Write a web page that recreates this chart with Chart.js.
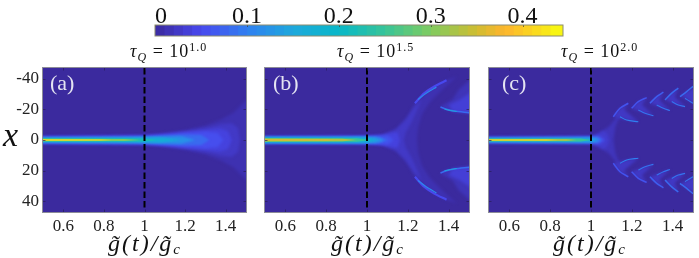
<!DOCTYPE html>
<html>
<head>
<meta charset="utf-8">
<script src="https://cdn.jsdelivr.net/npm/chart.js@4"></script>
<style>
html, body { margin: 0; padding: 0; background: #fff; }
#page { position: relative; width: 699px; height: 258px; overflow: hidden; font-family: "Liberation Serif", serif; color: #111; }
canvas { position: absolute; }
.title { position: absolute; top: 41px; font-size: 18px; letter-spacing: 1px; white-space: nowrap; }
.title sub { font-size: 12px; font-style: italic; vertical-align: -4px; line-height: 0; }
.title sup { font-size: 12px; vertical-align: 6px; line-height: 0; }
.tag { position: absolute; top: 70px; font-size: 22px; color: #e4e4f2; }
.xlabel { position: absolute; top: 230px; font-size: 24px; font-style: italic; white-space: nowrap; letter-spacing: 2px; }
.xlabel sub { font-size: 15px; vertical-align: -3px; line-height: 0; }
#xname { position: absolute; left: 3px; top: 116px; font-size: 34px; font-style: italic; }
</style>
</head>
<body>
<div id="page">
  <canvas id="bar" width="450" height="40" style="left:130px;top:0"></canvas>
  <canvas id="chartA" width="250" height="175" style="left:0;top:60px"></canvas>
  <canvas id="chartB" width="210" height="175" style="left:262px;top:60px"></canvas>
  <canvas id="chartC" width="210" height="175" style="left:486px;top:60px"></canvas>
  <div class="title" style="left:130px"><i>τ</i><sub>Q</sub> = 10<sup>1.0</sup></div>
  <div class="title" style="left:337px"><i>τ</i><sub>Q</sub> = 10<sup>1.5</sup></div>
  <div class="title" style="left:561px"><i>τ</i><sub>Q</sub> = 10<sup>2.0</sup></div>
  <div class="tag" style="left:50px">(a)</div>
  <div class="tag" style="left:273px">(b)</div>
  <div class="tag" style="left:502px">(c)</div>
  <div id="xname">x</div>
  <div class="xlabel" style="left:108px">g̃(t)/g̃<sub>c</sub></div>
  <div class="xlabel" style="left:331px">g̃(t)/g̃<sub>c</sub></div>
  <div class="xlabel" style="left:553px">g̃(t)/g̃<sub>c</sub></div>
</div>
<script>
const xTicks = [0.6, 0.8, 1, 1.2, 1.4];
const yTicks = [-40, -20, 0, 20, 40];
const barTicks = [0, 0.1, 0.2, 0.3, 0.4];
const barLevels = [0.01, 0.02, 0.03, 0.04, 0.05, 0.06, 0.07, 0.08, 0.09, 0.1, 0.11, 0.12, 0.13, 0.14, 0.15, 0.16, 0.17, 0.18, 0.19, 0.2, 0.21, 0.22, 0.23, 0.24, 0.25, 0.26, 0.27, 0.28, 0.29, 0.3, 0.31, 0.32, 0.33, 0.34, 0.35, 0.36, 0.37, 0.38, 0.39, 0.4, 0.41, 0.42, 0.43, 0.444];
const colorValues = [0, 0.05, 0.1, 0.15, 0.2, 0.25, 0.3, 0.35, 0.38, 0.444];
const colorHex = ['#3b2a9e', '#4848ee', '#2f80f0', '#1ea8dc', '#08b8c8', '#38c498', '#80cc60', '#d0bc30', '#fdb52e', '#f8fa10'];

// contours: [value, upper half outline as [g, x]]
// outline ending on x = 0 is a plume closed on the axis, others are mirrored islands
const contoursA = [
  [0.012, [[0.49, -2.6], [1, -3.2], [1.1, -4.5], [1.2, -6.5], [1.3, -9.5], [1.38, -13.5], [1.44, -18], [1.5, -26], [1.52, -26], [1.52, 0]]],
  [0.025, [[0.49, -2.3], [1, -2.9], [1.1, -4], [1.2, -5.6], [1.3, -8], [1.38, -10.5], [1.43, -11], [1.46, -8], [1.47, 0]]],
  [0.04, [[0.49, -2.1], [1, -2.7], [1.1, -3.6], [1.2, -5], [1.3, -6.6], [1.37, -7.5], [1.41, -6], [1.43, 0]]],
  [0.055, [[0.49, -2], [1, -2.5], [1.1, -3.2], [1.2, -4.6], [1.3, -5.4], [1.36, -4.5], [1.39, 0]]],
  [0.08, [[0.49, -1.8], [1, -2.2], [1.1, -2.9], [1.2, -3.6], [1.28, -3.2], [1.32, 0]]],
  [0.12, [[0.49, -1.6], [1, -1.9], [1.1, -2.3], [1.18, -2.4], [1.25, 0]]],
  [0.17, [[0.49, -1.3], [0.9, -1.4], [1, -1.6], [1.08, -1.6], [1.18, 0]]],
  [0.22, [[0.49, -1.1], [0.9, -1.1], [1, -1], [1.06, 0]]],
  [0.3, [[0.49, -0.85], [0.9, -0.7], [0.98, 0]]],
  [0.42, [[0.49, -0.45], [0.78, -0.35], [0.84, 0]]]
];
const ridgesA = [];

const contoursB = [
  [0.012, [[0.49, -2.4], [1, -2.8], [1.08, -3.6], [1.145, -7.6], [1.195, -15], [1.235, -24], [1.29, -31.6], [1.37, -38], [1.44, -41.4], [1.37, -33], [1.31, -25], [1.27, -17], [1.25, -8], [1.245, 0]]],
  [0.025, [[0.49, -2.3], [1, -2.6], [1.08, -3.3], [1.14, -6.5], [1.19, -13], [1.23, -21], [1.27, -27], [1.25, -21], [1.22, -12], [1.19, -5], [1.18, 0]]],
  [0.04, [[0.49, -2.2], [1, -2.4], [1.07, -3], [1.12, -4.5], [1.15, -5], [1.16, 0]]],
  [0.06, [[0.49, -2.1], [1, -2.3], [1.06, -2.6], [1.1, -3], [1.13, 0]]],
  [0.09, [[0.49, -2], [1, -2.1], [1.06, -2.2], [1.1, 0]]],
  [0.13, [[0.49, -1.8], [1, -1.9], [1.04, -1.8], [1.08, 0]]],
  [0.18, [[0.49, -1.6], [0.95, -1.6], [1, -1.4], [1.05, 0]]],
  [0.25, [[0.49, -1.3], [0.95, -1.2], [1.02, 0]]],
  [0.33, [[0.49, -0.95], [0.88, -0.85], [0.95, 0]]],
  [0.36, [[0.49, -0.45], [0.8, -0.4], [0.85, 0]]],
  [0.016, [[1.36, -22], [1.42, -26.5], [1.45, -33], [1.52, -41], [1.52, -17], [1.42, -18.5], [1.38, -20]]],
  [0.035, [[1.4, -23], [1.45, -26], [1.52, -32], [1.52, -17.5], [1.42, -19]]]
];
const ridgesB = [
  [0.05, 2.2, [[1.235, -24], [1.28, -30.5], [1.33, -35], [1.39, -39]]],
  [0.11, 1.3, [[1.25, -26.5], [1.29, -30.5], [1.34, -34.5]]],
  [0.08, 1.6, [[1.36, -21.5], [1.39, -20], [1.43, -18.9], [1.5, -17.8]]],
  [0.16, 0.9, [[1.38, -20.2], [1.41, -19.2], [1.44, -18.6]]]
];

const contoursC = [
  [0.018, [[0.49, -2], [1, -2.6], [1.05, -5.5], [1.09, -9], [1.12, -14], [1.15, -19], [1.18, -23], [1.14, -15], [1.12, -9], [1.11, 0]]],
  [0.03, [[0.49, -1.9], [1, -2.4], [1.03, -3.5], [1.06, -6], [1.08, -4], [1.09, 0]]],
  [0.06, [[0.49, -1.8], [1, -2.2], [1.04, -2.8], [1.07, 0]]],
  [0.1, [[0.49, -1.6], [1, -1.9], [1.03, -1.9], [1.05, 0]]],
  [0.16, [[0.49, -1.3], [1, -1.4], [1.03, 0]]],
  [0.25, [[0.49, -1], [0.95, -0.9], [1, 0]]],
  [0.32, [[0.49, -0.7], [0.88, -0.6], [0.93, 0]]],
  [0.42, [[0.49, -0.4], [0.78, -0.35], [0.84, 0]]],
  [0.024, [[1.109, -15.2], [1.142, -20.7], [1.183, -24], [1.16, -20], [1.232, -11.9], [1.175, -13]]],
  [0.024, [[1.199, -20.7], [1.232, -25], [1.273, -27.7], [1.25, -23], [1.306, -15.9], [1.265, -17.4]]],
  [0.024, [[1.289, -24], [1.322, -28.3], [1.355, -31.2], [1.335, -26], [1.387, -19.2], [1.355, -20.7]]],
  [0.024, [[1.363, -26.2], [1.396, -30.6], [1.428, -33.9], [1.41, -28], [1.461, -21.8], [1.428, -22.9]]],
  [0.024, [[1.436, -28.3], [1.469, -31.6], [1.52, -35], [1.52, -24], [1.486, -25.1], [1.461, -27.2]]]
];
const ridgesC = [
  [0.06, 1.5, [[1.109, -15.2], [1.142, -20.7], [1.183, -24]]],
  [0.1, 1.1, [[1.142, -15.2], [1.175, -13], [1.232, -11.9]]],
  [0.06, 1.5, [[1.199, -20.7], [1.232, -25], [1.273, -27.7]]],
  [0.09, 1.1, [[1.232, -19.6], [1.265, -17.4], [1.306, -15.9]]],
  [0.07, 1.5, [[1.289, -24], [1.322, -28.3], [1.355, -31.2]]],
  [0.09, 1.1, [[1.322, -22.9], [1.355, -20.7], [1.387, -19.2]]],
  [0.08, 1.5, [[1.363, -26.2], [1.396, -30.6], [1.428, -33.9]]],
  [0.09, 1.1, [[1.396, -25.1], [1.428, -22.9], [1.461, -21.8]]],
  [0.08, 1.5, [[1.436, -28.3], [1.469, -31.6], [1.5, -35]]],
  [0.09, 1.1, [[1.461, -27.2], [1.486, -25.1], [1.5, -24]]]
];

const criticalLine = [[1, -47], [1, 46]];

function colormap(v) {
  let i = 0;
  while (i < colorValues.length - 2 && v > colorValues[i + 1]) i++;
  const t = Math.min(1, (v - colorValues[i]) / (colorValues[i + 1] - colorValues[i]));
  const a = parseInt(colorHex[i].slice(1), 16), b = parseInt(colorHex[i + 1].slice(1), 16);
  const mix = s => Math.round((a >> s & 255) + ((b >> s & 255) - (a >> s & 255)) * t);
  return `rgb(${mix(16)},${mix(8)},${mix(0)})`;
}

const toXY = p => p.map(q => ({ x: q[0], y: q[1] }));
const flip = p => p.map(q => [q[0], -q[1]]);

function buildDatasets(contours, ridges) {
  const out = [];
  contours.forEach(([v, half]) => {
    const shapes = half[half.length - 1][1] === 0
      ? [half.concat(flip(half).reverse().slice(1))]
      : [half, flip(half)];
    const blur = v < 0.07 ? 1.8 : v < 0.2 ? 0.8 : 0.4;
    shapes.forEach(s => out.push({ data: toXY(s), showLine: true, fill: 'shape', backgroundColor: colormap(v), borderWidth: 0, pointRadius: 0, blur }));
  });
  ridges.forEach(([v, w, line]) => {
    [line, flip(line)].forEach(s => out.push({ data: toXY(s), showLine: true, fill: false, borderColor: colormap(v), borderWidth: w, pointRadius: 0, tension: 0.3, blur: 0.6 }));
  });
  out.push({ data: toXY(criticalLine), showLine: true, fill: false, borderColor: '#000', borderWidth: 2, borderDash: [6.5, 3], pointRadius: 0, blur: 0 });
  out.forEach((d, i) => { d.order = out.length - i; });
  return out;
}

const panelPlugin = {
  id: 'panel',
  beforeDraw(chart) {
    const a = chart.chartArea;
    chart.ctx.fillStyle = colormap(0);
    chart.ctx.fillRect(a.left, a.top, a.width, a.height);
  },
  // the filler runs before this plugin's own dataset hook, so each dataset's blur is set after the one before it
  beforeDatasetsDraw(chart) {
    chart.ctx.save();
    chart.ctx.filter = `blur(${chart.data.datasets[0].blur}px)`;
  },
  afterDatasetDraw(chart, args) {
    const next = chart.data.datasets[args.index + 1];
    if (next) chart.ctx.filter = next.blur ? `blur(${next.blur}px)` : 'none';
  },
  afterDatasetsDraw(chart) {
    chart.ctx.restore();
    const { ctx, chartArea: a, scales } = chart;
    ctx.save();
    ctx.strokeStyle = 'rgba(40,30,90,0.7)';
    ctx.lineWidth = 1;
    ctx.beginPath();
    xTicks.forEach(t => {
      const px = Math.round(scales.x.getPixelForValue(t)) + 0.5;
      ctx.moveTo(px, a.top); ctx.lineTo(px, a.top + 2.5);
      ctx.moveTo(px, a.bottom); ctx.lineTo(px, a.bottom - 2.5);
    });
    yTicks.forEach(t => {
      const py = Math.round(scales.y.getPixelForValue(t)) + 0.5;
      ctx.moveTo(a.left, py); ctx.lineTo(a.left + 2.5, py);
      ctx.moveTo(a.right, py); ctx.lineTo(a.right - 2.5, py);
    });
    ctx.stroke();
    ctx.strokeStyle = '#8c8c98';
    ctx.strokeRect(a.left - 0.5, a.top - 0.5, a.width + 1, a.height + 1);
    ctx.restore();
  }
};

function panel(id, contours, ridges, showY, leftW, rightW) {
  new Chart(document.getElementById(id), {
    type: 'scatter',
    data: { datasets: buildDatasets(contours, ridges) },
    options: {
      responsive: false,
      animation: false,
      events: [],
      layout: { padding: { top: 8, right: rightW, left: 0, bottom: 0 } },
      plugins: { legend: { display: false }, tooltip: { enabled: false } },
      scales: {
        x: {
          type: 'linear', min: 0.5, max: 1.5,
          afterBuildTicks: s => { s.ticks = xTicks.map(v => ({ value: v })); },
          afterFit: s => { s.height = 23; s.paddingLeft = 0; s.paddingRight = 0; },
          grid: { display: false, drawTicks: false },
          border: { display: false },
          ticks: { maxRotation: 0, autoSkip: false, padding: 4, color: '#222', font: { family: 'Liberation Serif', size: 17 }, callback: v => String(v) }
        },
        y: {
          type: 'linear', min: -47, max: 47, reverse: true,
          afterBuildTicks: s => { s.ticks = yTicks.map(v => ({ value: v })); },
          afterFit: s => { s.width = leftW; s.paddingTop = 0; s.paddingBottom = 0; },
          grid: { display: false, drawTicks: false },
          border: { display: false },
          ticks: { display: showY, autoSkip: false, padding: 4, color: '#222', font: { family: 'Liberation Serif', size: 17 }, callback: v => String(v) }
        }
      }
    },
    plugins: [panelPlugin]
  });
}

panel('chartA', contoursA, ridgesA, true, 43, 4);
panel('chartB', contoursB, ridgesB, false, 3, 3);
panel('chartC', contoursC, ridgesC, false, 3, 3);

new Chart(document.getElementById('bar'), {
  type: 'bar',
  data: {
    labels: [''],
    datasets: barLevels.map(v => ({ data: [v], backgroundColor: colormap(v - 0.005), borderWidth: 0, grouped: false, barPercentage: 1, categoryPercentage: 1 }))
  },
  options: {
    indexAxis: 'y',
    responsive: false,
    animation: false,
    events: [],
    layout: { padding: { left: 25, right: 17, top: 0, bottom: 4 } },
    plugins: { legend: { display: false }, tooltip: { enabled: false } },
    scales: {
      x: {
        type: 'linear', position: 'top', min: 0, max: 0.444,
        afterBuildTicks: s => { s.ticks = barTicks.map(v => ({ value: v })); },
        afterFit: s => { s.height = 25; s.paddingLeft = 0; s.paddingRight = 0; },
        grid: { display: false, drawTicks: false },
        border: { display: false },
        ticks: { maxRotation: 0, autoSkip: false, padding: -6, color: '#111', font: { family: 'Liberation Serif', size: 24 }, callback: v => (v === 0 ? '\u00a0\u00a00' : String(v)) }
      },
      y: { display: false }
    }
  },
  plugins: [{
    id: 'barFrame',
    afterDatasetsDraw(chart) {
      const { ctx, chartArea: a, scales } = chart;
      ctx.save();
      ctx.strokeStyle = 'rgba(60,60,60,0.7)';
      ctx.beginPath();
      barTicks.forEach(t => {
        const px = Math.round(scales.x.getPixelForValue(t)) + 0.5;
        ctx.moveTo(px, a.top); ctx.lineTo(px, a.top + 2);
      });
      ctx.stroke();
      ctx.strokeStyle = '#8c8c70';
      ctx.strokeRect(a.left, a.top, a.width, a.height);
      ctx.restore();
    }
  }]
});
</script>
</body>
</html>
